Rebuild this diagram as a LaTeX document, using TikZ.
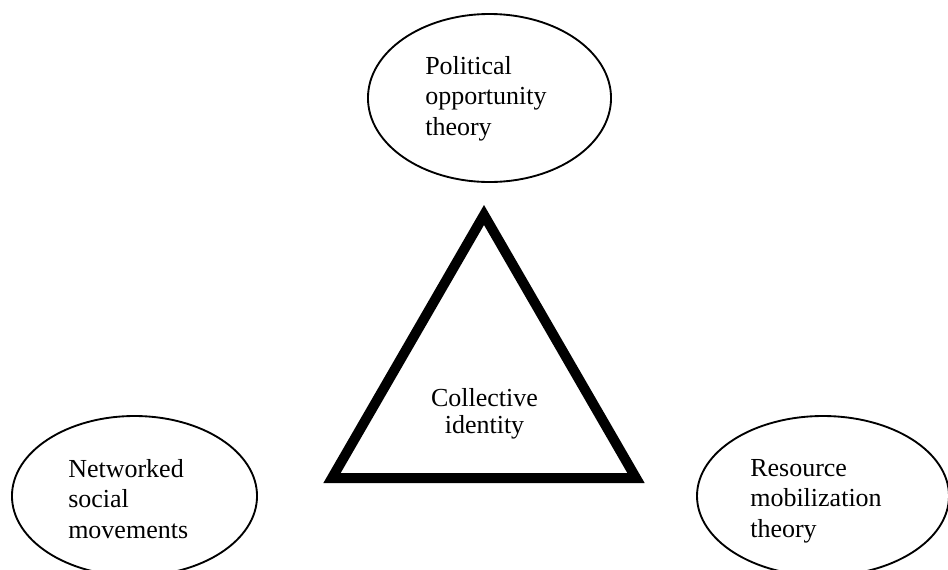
\documentclass[tikz,border=0pt]{standalone}
\usepackage{fontspec}
\setmainfont{Liberation Serif}
\usetikzlibrary{shapes.geometric}
\begin{document}
\begin{tikzpicture}[x=0.75pt,y=-0.75pt,
  theory/.style={ellipse, draw, line width=1.4pt, inner sep=0pt},
  theorytext/.style={anchor=north west, inner sep=0pt, align=left,
    font=\fontsize{19.5}{22.9}\selectfont}]
  \useasboundingbox (0,0) rectangle (948,569);
  % --- the three theories, one ellipse each (the lower two run off the page)
  \node[theory, minimum width=182.3pt, minimum height=126pt] (pot) at (489.5,98) {};
  \node[theory, minimum width=183.8pt, minimum height=120pt] (nsm) at (134.5,496) {};
  \node[theory, minimum width=189pt, minimum height=120pt] (rmt) at (823,496) {};
  % their labels, set left-aligned a little off centre
  \node[theorytext] (potlabel) at (425,56) {Political\\opportunity\\theory};
  \node[theorytext] (nsmlabel) at (68,459) {Networked\\social\\movements};
  \node[theorytext] (rmtlabel) at (750,459) {Resource\\mobilization\\theory};
  % --- the core: a heavy triangle with its label inside
  \coordinate (apex) at (484,215);
  \coordinate (baseL) at (332,478);
  \coordinate (baseR) at (636,478);
  \draw[line width=7.5pt, line join=miter] (apex) -- (baseR) -- (baseL) -- cycle;
  \node[align=center, font=\fontsize{19.5}{20.3}\selectfont] (core) at (484.5,414)
    {Collective\\identity};
\end{tikzpicture}
\end{document}
